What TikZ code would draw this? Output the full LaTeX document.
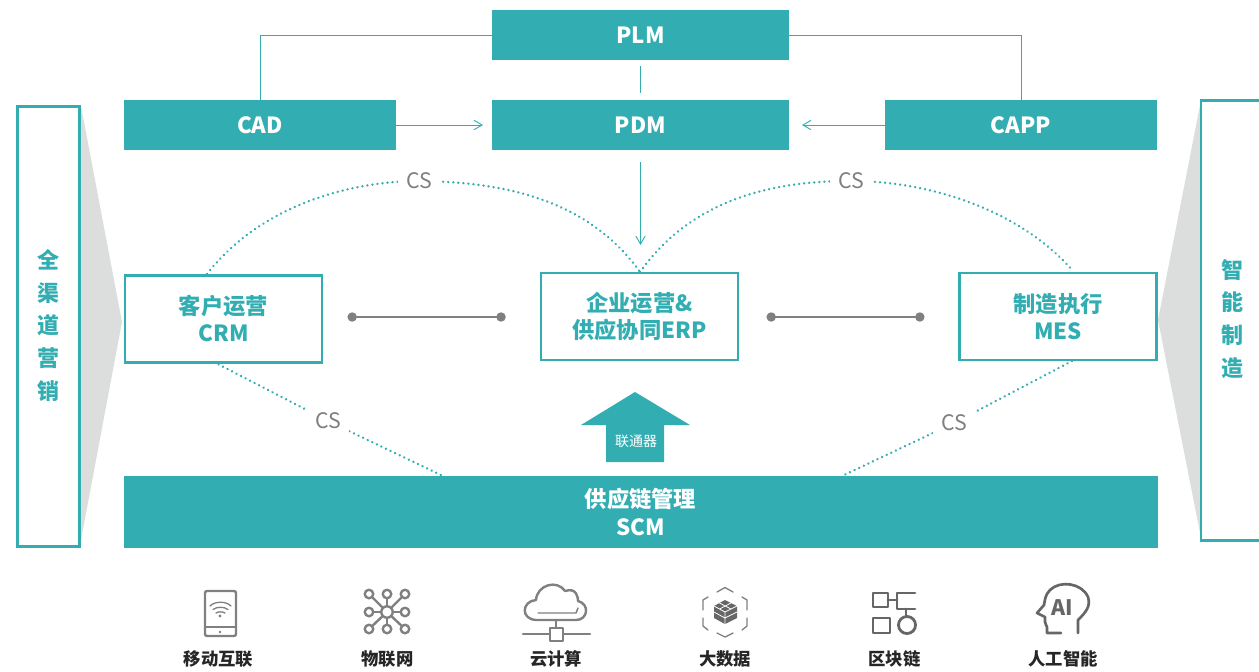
\documentclass[tikz,border=0pt]{standalone}
\usepackage{fontspec}
\setmainfont{Noto Sans CJK SC}
\usetikzlibrary{arrows.meta, shapes.geometric}
\definecolor{teal1}{HTML}{32AEB3}
\definecolor{gray1}{HTML}{808080}
\definecolor{gray2}{HTML}{DCDDDD}
\definecolor{gray3}{HTML}{666666}
\tikzset{
  solidbox/.style={fill=teal1, text=white, font=\bfseries\fontsize{16.7}{20.5}\selectfont, align=center, inner sep=0pt},
  linebox/.style={draw=teal1, line width=1.8pt, fill=white, text=teal1, font=\bfseries\fontsize{16.7}{20.5}\selectfont, align=center, inner sep=0pt},
  sidebox/.style={draw=teal1, line width=2.2pt, fill=white, text=teal1, font=\bfseries\fontsize{16.5}{24.7}\selectfont, align=center, inner sep=0pt},
  thinline/.style={draw=teal1, line width=0.7pt},
  thinarrow/.style={thinline, -{Straight Barb[length=6pt,width=7pt]}},
  csline/.style={draw=teal1, line width=1.9pt, line cap=round, dash pattern=on 0.1pt off 3.7pt},
  cslabel/.style={fill=white, text=gray1, font=\fontsize{16}{18}\selectfont, inner xsep=6pt, inner ysep=3pt},
  dumbbell/.style={draw=gray1, line width=1.3pt, {Circle[length=7pt]}-{Circle[length=7pt]}},
  iconline/.style={draw=gray1, line width=1.8pt, line cap=round, line join=round},
  iconlabel/.style={text=black!85, font=\bfseries\fontsize{13}{15}\selectfont, inner sep=0pt}
}

\begin{document}
\begin{tikzpicture}[x=0.75pt, y=-0.75pt]
    \useasboundingbox (0,0) rectangle (1259,671);

    % Grey funnels
    \fill[gray2] (81,106) -- (122,322) -- (81,540) -- cycle;
    \fill[gray2] (1201,100) -- (1158,320) -- (1201,538) -- cycle;

    % Side bars
    \node[sidebox, minimum width=46pt, minimum height=330pt] (channel) at (48.5,326.5) {};
    \node[text=teal1, font=\bfseries\fontsize{16.5}{24.7}\selectfont, align=center, inner sep=0pt] (channeltext) at (48.5,325.5) {全\\渠\\道\\营\\销};
    \node[sidebox, minimum width=60pt, minimum height=330pt] (smart) at (1241,320.5) {};
    \node[text=teal1, font=\bfseries\fontsize{16.5}{24.7}\selectfont, align=center, inner sep=0pt] (smarttext) at (1232,319) {智\\能\\制\\造};

    % Top row
    \node[solidbox, minimum width=222.75pt, minimum height=37.5pt] (plm) at (640.5,35) {PLM};
    \node[solidbox, minimum width=204pt, minimum height=37.5pt] (cad) at (260,125) {CAD};
    \node[solidbox, minimum width=222.75pt, minimum height=37.5pt] (pdm) at (640.5,125) {PDM};
    \node[solidbox, minimum width=204pt, minimum height=37.5pt] (capp) at (1021,125) {CAPP};

    % Middle row
    \node[linebox, minimum width=148pt, minimum height=65pt] (crm) at (223.5,319) {\raisebox{1pt}{客户运营}\\\raisebox{1pt}{CRM}};
    \node[linebox, minimum width=148pt, minimum height=65pt] (erp) at (639.5,316.5) {\raisebox{1pt}{企业运营\&}\\\raisebox{1pt}{供应协同ERP}};
    \node[linebox, minimum width=148pt, minimum height=65pt] (mes) at (1058,316.5) {制造执行\\MES};

    % Bottom bar
    \node[solidbox, minimum width=775.5pt, minimum height=54pt] (scm) at (640.5,512) {\raisebox{-0.7pt}{供应链管理}\\\raisebox{-0.7pt}{SCM}};

    % Lines around PLM
    \draw[thinline] (plm.west) -| (cad.north);
    \draw[thinline] (plm.east) -| (capp.north);
    \coordinate (plmgap) at (640.5,66);
    \coordinate (pdmgap) at (640.5,93);
    \draw[thinline] (plmgap) -- (pdmgap);

    % Arrows into PDM and ERP
    \coordinate (cadend) at (483,125);
    \coordinate (cappend) at (802,125);
    \coordinate (pdmend) at (640.5,162);
    \coordinate (erpend) at (640.5,245);
    \draw[thinarrow] (cad.east) -- (cadend);
    \draw[thinarrow] (capp.west) -- (cappend);
    \draw[thinarrow] (pdmend) -- (erpend);

    % Dumbbells
    \coordinate (linka) at (347.5,317);
    \coordinate (linkb) at (505.7,317);
    \coordinate (linkc) at (766.5,317);
    \coordinate (linkd) at (924.5,317);
    \draw[dumbbell] (linka) -- (linkb);
    \draw[dumbbell] (linkc) -- (linkd);

    % Dotted CS links
    \coordinate (crmtop) at (207,274);
    \coordinate (erptop) at (640,272);
    \coordinate (mestop) at (1073,271);
    \coordinate (crmbot) at (214,362);
    \coordinate (mesbot) at (1072,361);
    \coordinate (scmleft) at (443,476);
    \coordinate (scmright) at (842,476);
    \draw[csline] (crmtop) .. controls (265,200) and (360,181) .. (419,181) node[cslabel] (cs1) {CS} .. controls (495,182) and (585,195) .. (erptop);
    \draw[csline] (erptop) .. controls (695,195) and (780,181) .. (851,181) node[cslabel] (cs2) {CS} .. controls (930,181) and (1020,210) .. (mestop);
    \draw[csline] (crmbot) -- (328,421) node[cslabel] (cs3) {CS} -- (scmleft);
    \draw[csline] (mesbot) -- (954,423) node[cslabel] (cs4) {CS} -- (scmright);

    % Block arrow
    \fill[teal1] (635,392) -- (690,425) -- (664,425) -- (664,462) -- (606,462) -- (606,425) -- (581,425) -- cycle;
    \node[text=white, font=\fontsize{10.5}{12}\selectfont, inner sep=0pt] (linker) at (636,441) {联通器};

    % Icons
    \begin{scope}[iconline]
      % tablet
      \draw[rounded corners=1.5pt] (205,591) rectangle (236,636);
      \draw (205,627) -- (236,627);
      \fill[gray1] (220,632) circle (1pt) (220,616) circle (1.2pt);
      \draw[line width=1pt] (210,606) .. controls (215,601) and (226,601) .. (231,606);
      \draw[line width=1pt] (213,609.5) .. controls (217,606.5) and (224,606.5) .. (228,609.5);
      \draw[line width=1pt] (216,613) .. controls (218,611.5) and (223,611.5) .. (225,613);
      % network
      \foreach \px/\py in {369/594, 387/594, 405/594, 369/612, 405/612, 369/629, 387/629, 405/629} {
        \draw (\px,\py) -- (387,612);
        \draw[fill=white] (\px,\py) circle (3.2pt);
      }
      \draw[fill=white] (387,612) circle (4.3pt);
      % cloud
      \draw (536,620) .. controls (520,619) and (522,601) .. (536,600) .. controls (537,585) and (557,579) .. (565,591) .. controls (577,587) and (578,598) .. (578,601) .. controls (590,604) and (588,620) .. (576,620) -- cycle;
      \draw[line width=1.1pt] (538,613) -- (576,613) -- (578,608);
      \draw (556,620) -- (556,628);
      \draw (523,634) -- (550,634) (563,634) -- (590,634);
      \draw (550,628) rectangle (563,641);
      % hexagon with cube
      \draw[line width=1pt] (717,592) -- (725,587.5) -- (733,592);
      \draw[line width=1pt] (742,597) -- (747,600) -- (747,610);
      \draw[line width=1pt] (747,618) -- (747,626) -- (742,630);
      \draw[line width=1pt] (733,633) -- (725,637) -- (717,633);
      \draw[line width=1pt] (708,630) -- (703,626) -- (703,618);
      \draw[line width=1pt] (703,610) -- (703,600) -- (708,597);
      \fill[gray3] (725,600) -- (737,606) -- (737,618) -- (725,624) -- (714,618) -- (714,606) -- cycle;
      \draw[white, line width=0.6pt] (714,606) -- (725,612) -- (737,606) (725,612) -- (725,624) (719.5,603) -- (731,609) (731,603) -- (719.5,609) (714,612) -- (725,618) -- (737,612);
      % blockchain
      \begin{scope}[gray3, line width=2.1pt]
        \draw (873,593) rectangle (888,607);
        \draw (888,600) -- (897,600);
        \draw (915,593) -- (897,593) -- (897,609) -- (915,609);
        \draw (873,618) rectangle (890,633);
        \draw (906,609) -- (906,616);
        \draw (907,625) circle (6.4pt);
      \end{scope}
      % AI head
      \draw[gray3, line width=2pt] (1078,633) -- (1078,620) .. controls (1086,612) and (1091,606) .. (1088,597) .. controls (1082,583) and (1060,580) .. (1050,590) .. controls (1045,595) and (1045,600) .. (1044,605) -- (1037,613) -- (1045,617) -- (1045,622) .. controls (1045,625) and (1047,625) .. (1047,627) -- (1047,633) -- (1061,633);
    \end{scope}
    \node[text=gray3, font=\bfseries\fontsize{16}{19}\selectfont, inner sep=0pt] (aitext) at (1062,608) {AI};

    % Icon labels
    \node[iconlabel] (lab1) at (218.5,659) {移动互联};
    \node[iconlabel] (lab2) at (387.5,659) {物联网};
    \node[iconlabel] (lab3) at (556,659) {云计算};
    \node[iconlabel] (lab4) at (725,659) {大数据};
    \node[iconlabel] (lab5) at (894.5,659) {区块链};
    \node[iconlabel] (lab6) at (1063,659) {人工智能};
\end{tikzpicture}
\end{document}
